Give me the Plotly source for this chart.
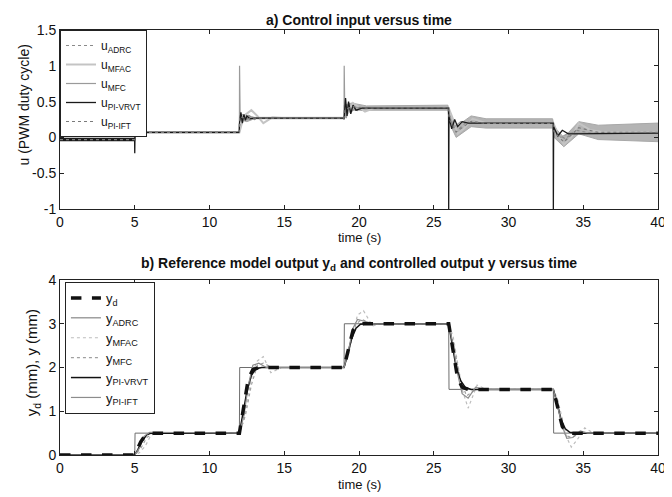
import plotly.graph_objects as go

# ---------------- data: a) control input ----------------
t_u_adrc = [0, 5, 5.01, 12, 12.2, 12.5, 13, 13.5, 19, 19.2, 19.5, 20, 20.5, 26, 26.3, 26.7, 27.2, 27.8, 33, 33.3, 33.8, 34.5, 35.5, 40]
u_adrc = [-0.03, -0.03, 0.07, 0.07, 0.3, 0.33, 0.25, 0.27, 0.27, 0.45, 0.4, 0.37, 0.41, 0.41, 0.15, 0.12, 0.22, 0.2, 0.2, 0.05, -0.02, 0.1, 0.06, 0.06]

t_u_mfac = [0, 5, 5.01, 12, 12.3, 12.8, 13.2, 13.6, 14.2, 14.8, 19, 19.3, 19.6, 20.0, 20.4, 21, 26, 26.3, 26.6, 27.0, 27.6, 28.5, 33, 33.3, 33.7, 34.2, 34.7, 35.5, 36.5, 40]
u_mfac = [-0.03, -0.03, 0.07, 0.07, 0.3, 0.38, 0.3, 0.2, 0.28, 0.27, 0.27, 0.35, 0.48, 0.42, 0.36, 0.41, 0.41, 0.25, 0.05, 0.12, 0.26, 0.2, 0.2, 0.05, -0.1, 0.0, 0.2, 0.1, 0.07, 0.07]

t_u_mfc = [0, 5, 5.01, 12, 12.01, 12.05, 12.15, 12.3, 12.5, 12.8, 13.2, 19, 19.01, 19.05, 19.15, 19.3, 19.5, 19.8, 20.3, 26, 26.1, 26.4, 26.8, 27.3, 33, 33.1, 33.5, 34, 40]
u_mfc = [-0.03, -0.03, 0.07, 0.07, 1.0, 0.3, 0.22, 0.3, 0.25, 0.28, 0.27, 0.27, 1.0, 0.35, 0.27, 0.42, 0.36, 0.42, 0.41, 0.41, 0.25, 0.15, 0.22, 0.2, 0.2, 0.1, 0.0, 0.06, 0.06]

t_u_vrvt = [0, 4.99, 5, 5.02, 11.99, 12, 12.1, 12.2, 12.3, 12.4, 12.5, 12.7, 13, 18.99, 19, 19.1, 19.2, 19.3, 19.45, 19.6, 19.8, 20.2, 25.99, 26.0, 26.02, 26.2, 26.4, 26.6, 26.9, 27.3, 32.99, 33.0, 33.02, 33.3, 33.6, 34, 40]
u_vrvt = [-0.03, -0.03, -0.22, 0.07, 0.07, 0.18, 0.35, 0.2, 0.32, 0.24, 0.3, 0.26, 0.27, 0.27, 0.25, 0.55, 0.3, 0.5, 0.33, 0.45, 0.38, 0.41, 0.41, -1.0, 0.3, 0.12, 0.25, 0.15, 0.22, 0.2, 0.2, -1.0, 0.15, 0.02, 0.1, 0.05, 0.06]

# chattering of u_PI-VRVT during the first 5 s (drawn as a heavier black segment)
t_u_vrvt_chatter = [0, 5]
u_vrvt_chatter = [-0.03, -0.03]

t_u_ift = [0, 5, 5.01, 12, 12.01, 12.5, 13, 19, 19.01, 19.5, 20.5, 25.95, 26.05, 26.5, 27.5, 28.5, 32.95, 33.05, 33.7, 34.7, 36, 40]
u_ift_upper = [-0.02, -0.02, 0.08, 0.08, 0.33, 0.3, 0.28, 0.28, 0.45, 0.48, 0.44, 0.45, 0.3, 0.15, 0.3, 0.26, 0.26, 0.15, 0.0, 0.22, 0.17, 0.2]
u_ift_lower = [-0.04, -0.04, 0.06, 0.06, 0.25, 0.22, 0.26, 0.26, 0.3, 0.38, 0.38, 0.38, 0.2, 0.0, 0.15, 0.13, 0.13, 0.0, -0.13, 0.05, -0.03, -0.06]

# ---------------- data: b) outputs ----------------
t_yd = [0, 5, 5.2, 5.4, 5.7, 6, 12, 12.2, 12.4, 12.6, 12.9, 13.3, 19, 19.2, 19.4, 19.6, 19.9, 20.3, 26, 26.2, 26.4, 26.6, 26.9, 27.3, 33, 33.2, 33.4, 33.6, 33.9, 34.3, 40]
yd = [0, 0, 0.15, 0.3, 0.45, 0.5, 0.5, 0.95, 1.4, 1.75, 1.95, 2.0, 2.0, 2.3, 2.6, 2.85, 2.97, 3.0, 3.0, 2.55, 2.1, 1.75, 1.55, 1.5, 1.5, 1.2, 0.9, 0.65, 0.52, 0.5, 0.5]

t_y_adrc = [0, 5, 5.02, 12, 12.02, 19, 19.02, 26, 26.02, 33, 33.02, 40]
y_adrc = [0, 0, 0.5, 0.5, 2, 2, 3, 3, 1.5, 1.5, 0.5, 0.5]

t_y_mfac = [0, 5, 5.3, 5.7, 6.0, 6.3, 12, 12.3, 12.6, 12.9, 13.2, 13.6, 14.1, 14.8, 19, 19.3, 19.6, 19.9, 20.3, 20.9, 21.5, 26, 26.3, 26.6, 26.9, 27.3, 27.9, 28.5, 33, 33.3, 33.6, 33.9, 34.2, 34.6, 35.1, 35.7, 40]
y_mfac = [0, 0, 0.05, 0.2, 0.4, 0.5, 0.5, 0.8, 1.4, 1.9, 2.15, 2.25, 1.88, 2.0, 2.0, 2.3, 2.8, 3.2, 3.3, 2.95, 3.0, 3.0, 2.7, 2.1, 1.5, 1.07, 1.6, 1.5, 1.5, 1.25, 0.8, 0.4, 0.18, 0.35, 0.62, 0.5, 0.5]

t_y_mfc = [0, 5, 5.4, 5.8, 6.3, 12, 12.4, 12.8, 13.2, 13.6, 14.2, 19, 19.4, 19.8, 20.2, 20.8, 26, 26.4, 26.8, 27.2, 27.8, 33, 33.4, 33.8, 34.2, 34.8, 40]
y_mfc = [0, 0, 0.15, 0.4, 0.5, 0.5, 0.9, 1.6, 2.05, 2.1, 2.0, 2.0, 2.5, 3.0, 3.1, 3.0, 3.0, 2.4, 1.7, 1.35, 1.5, 1.5, 1.0, 0.45, 0.4, 0.5, 0.5]

t_y_vrvt = [0, 5, 5.2, 5.5, 5.8, 6.1, 12, 12.2, 12.5, 12.8, 13.1, 13.5, 19, 19.2, 19.5, 19.8, 20.1, 20.5, 26, 26.2, 26.5, 26.8, 27.1, 27.5, 33, 33.2, 33.5, 33.8, 34.1, 34.5, 40]
y_vrvt = [0, 0, 0.12, 0.32, 0.46, 0.5, 0.5, 0.9, 1.45, 1.82, 1.97, 2.0, 2.0, 2.25, 2.65, 2.9, 2.99, 3.0, 3.0, 2.6, 2.0, 1.7, 1.55, 1.5, 1.5, 1.25, 0.82, 0.6, 0.52, 0.5, 0.5]

t_y_ift = [0, 5, 5.3, 5.6, 6.0, 12, 12.3, 12.6, 12.9, 13.3, 13.8, 19, 19.3, 19.6, 19.9, 20.4, 21, 26, 26.3, 26.6, 26.9, 27.3, 27.8, 28.3, 33, 33.3, 33.6, 33.9, 34.3, 34.8, 35.3, 40]
y_ift = [0, 0, 0.15, 0.42, 0.52, 0.5, 0.9, 1.6, 2.05, 2.1, 2.0, 2.0, 2.4, 2.9, 3.1, 3.05, 3.0, 3.0, 2.5, 1.85, 1.4, 1.3, 1.55, 1.5, 1.5, 1.1, 0.65, 0.38, 0.4, 0.55, 0.5, 0.5]

x_ticks = [0, 5, 10, 15, 20, 25, 30, 35, 40]
u_ticks = [-1, -0.5, 0, 0.5, 1, 1.5]
u_tick_text = ["-1", "-0.5", "0", "0.5", "1", "1.5"]
y_ticks = [0, 1, 2, 3, 4]

FONT = "Liberation Sans, Arial, sans-serif"
fig = go.Figure()

# ---- panel a ----
fig.add_trace(go.Scatter(x=t_u_ift, y=u_ift_upper, mode="lines", line=dict(color="#a8a8a8", width=1),
                         showlegend=False, hoverinfo="skip", xaxis="x", yaxis="y"))
fig.add_trace(go.Scatter(x=t_u_ift, y=u_ift_lower, mode="lines", line=dict(color="#a8a8a8", width=1),
                         fill="tonexty", fillcolor="#b4b4b4", showlegend=False, hoverinfo="skip", xaxis="x", yaxis="y"))
fig.add_trace(go.Scatter(x=t_u_adrc, y=u_adrc, mode="lines", name="u<sub>ADRC</sub>", legendrank=1,
                         line=dict(color="#8a8a8a", width=1.2, dash="dot"), xaxis="x", yaxis="y", legend="legend"))
fig.add_trace(go.Scatter(x=t_u_mfac, y=u_mfac, mode="lines", name="u<sub>MFAC</sub>", legendrank=2,
                         line=dict(color="#c4c4c4", width=2), xaxis="x", yaxis="y", legend="legend"))
fig.add_trace(go.Scatter(x=t_u_mfc, y=u_mfc, mode="lines", name="u<sub>MFC</sub>", legendrank=3,
                         line=dict(color="#9a9a9a", width=1.2), xaxis="x", yaxis="y", legend="legend"))
fig.add_trace(go.Scatter(x=t_u_vrvt_chatter, y=u_vrvt_chatter, mode="lines", showlegend=False, hoverinfo="skip",
                         line=dict(color="#1a1a1a", width=3.5), xaxis="x", yaxis="y"))
fig.add_trace(go.Scatter(x=t_u_vrvt, y=u_vrvt, mode="lines", name="u<sub>PI-VRVT</sub>", legendrank=4,
                         line=dict(color="#1a1a1a", width=1.3), xaxis="x", yaxis="y", legend="legend"))
fig.add_trace(go.Scatter(x=t_u_ift, y=[(a + b) / 2 for a, b in zip(u_ift_upper, u_ift_lower)], mode="lines",
                         name="u<sub>PI-IFT</sub>", legendrank=5, line=dict(color="#7a7a7a", width=1.2, dash="dot"),
                         xaxis="x", yaxis="y", legend="legend"))

# ---- panel b ----
fig.add_trace(go.Scatter(x=t_y_adrc, y=y_adrc, mode="lines", name="y<sub>ADRC</sub>", legendrank=2,
                         line=dict(color="#6e6e6e", width=1), xaxis="x2", yaxis="y2", legend="legend2"))
fig.add_trace(go.Scatter(x=t_y_mfac, y=y_mfac, mode="lines", name="y<sub>MFAC</sub>", legendrank=3,
                         line=dict(color="#bdbdbd", width=1.2, dash="dot"), xaxis="x2", yaxis="y2", legend="legend2"))
fig.add_trace(go.Scatter(x=t_y_mfc, y=y_mfc, mode="lines", name="y<sub>MFC</sub>", legendrank=4,
                         line=dict(color="#a0a0a0", width=1.2, dash="dot"), xaxis="x2", yaxis="y2", legend="legend2"))
fig.add_trace(go.Scatter(x=t_y_vrvt, y=y_vrvt, mode="lines", name="y<sub>PI-VRVT</sub>", legendrank=5,
                         line=dict(color="#111111", width=1.5), xaxis="x2", yaxis="y2", legend="legend2"))
fig.add_trace(go.Scatter(x=t_y_ift, y=y_ift, mode="lines", name="y<sub>PI-IFT</sub>", legendrank=6,
                         line=dict(color="#8c8c8c", width=1.2), xaxis="x2", yaxis="y2", legend="legend2"))
fig.add_trace(go.Scatter(x=t_yd, y=yd, mode="lines", name="y<sub>d</sub>", legendrank=1,
                         line=dict(color="#111111", width=3.5, dash="dash"), xaxis="x2", yaxis="y2", legend="legend2"))

# The page body adds an 8 px offset; figure is sized so the plot areas land where the reference has them.
OFF = 8
W, H = 672 - OFF, 497 - OFF
L, R, T, B = 60 - OFF, 6, 30 - OFF, 42
PW, PH = W - L - R, H - T - B


def py(pix):  # window pixel row -> paper y
    return (H - B - (pix - OFF)) / PH


def px(pix):  # window pixel column -> paper x
    return (pix - OFF - L) / PW


axis_common = dict(showline=True, linecolor="#222", linewidth=1, mirror="ticks", ticks="inside",
                   ticklen=4, tickcolor="#222", showgrid=False, zeroline=False, ticklabeloverflow="allow",
                   tickfont=dict(family=FONT, size=14, color="#111"))

legend_common = dict(xanchor="left", yanchor="top", bgcolor="white", bordercolor="#222", borderwidth=1,
                     traceorder="normal", tracegroupgap=0)

fig.update_layout(
    width=W, height=H, margin=dict(l=L, r=R, t=T, b=B),
    paper_bgcolor="white", plot_bgcolor="white",
    font=dict(family=FONT, color="#111"),
    xaxis=dict(domain=[0, 1], range=[0, 40], tickvals=x_ticks, anchor="y", **axis_common),
    yaxis=dict(domain=[py(209), 1], range=[-1, 1.5], tickvals=u_ticks, ticktext=u_tick_text,
               anchor="x", **axis_common),
    xaxis2=dict(domain=[0, 1], range=[0, 40], tickvals=x_ticks, anchor="y2", **axis_common),
    yaxis2=dict(domain=[0, py(280)], range=[0, 4], tickvals=y_ticks, anchor="x2", **axis_common),
    legend=dict(x=0, y=1, font=dict(family=FONT, size=12, color="#111"), **legend_common),
    legend2=dict(x=px(65), y=py(282), font=dict(family=FONT, size=13, color="#111"), **legend_common),
    showlegend=True,
)

ann = [
    dict(text="<b>a) Control input versus time</b>", x=0.5, y=py(20), angle=0, size=14),
    dict(text="<b>b) Reference model output y<sub>d</sub> and controlled output y versus time</b>", x=0.5, y=py(264), angle=0, size=14),
    dict(text="time (s)", x=0.5, y=py(237), angle=0, size=13),
    dict(text="time (s)", x=0.5, y=py(484), angle=0, size=13),
    dict(text="u (PWM duty cycle)", x=px(24), y=py(105), angle=-90, size=14),
    dict(text="y<sub>d</sub> (mm), y (mm)", x=px(32), y=py(363), angle=-90, size=15),
]
for a in ann:
    fig.add_annotation(text=a["text"], x=a["x"], y=a["y"], xref="paper", yref="paper",
                       showarrow=False, textangle=a["angle"], xanchor="center", yanchor="middle",
                       font=dict(family=FONT, size=a["size"], color="#111"))

fig.write_html("out.html")
